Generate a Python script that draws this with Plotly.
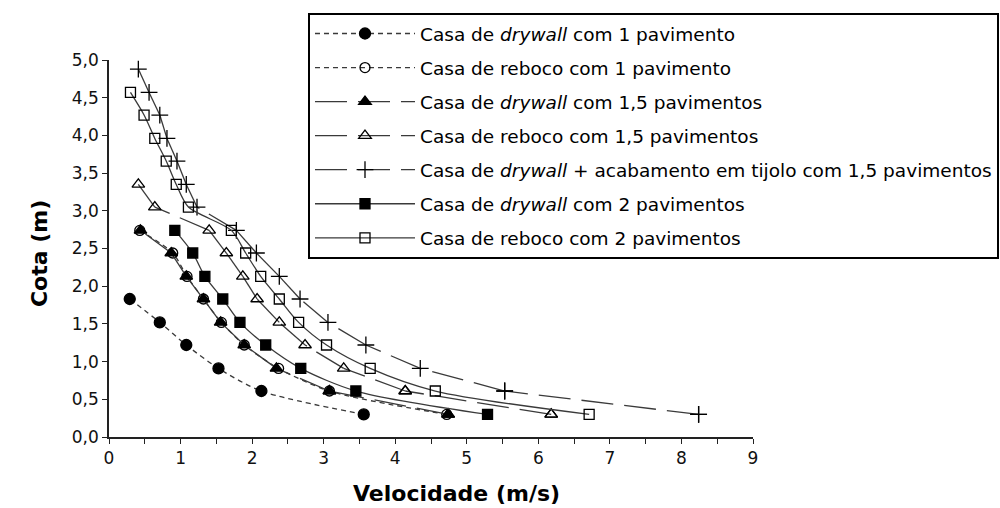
import plotly.graph_objects as go

# Heights (m) - shared vertical levels, bottom to top
cota = [0.30, 0.61, 0.91, 1.22, 1.52, 1.83, 2.13, 2.44, 2.74, 3.05, 3.35, 3.66, 3.96, 4.27, 4.57, 4.88]

# Velocities (m/s), ordered from the lowest height upward
vel_drywall_1 = [3.56, 2.13, 1.53, 1.08, 0.71, 0.29]
vel_reboco_1 = [4.72, 3.08, 2.37, 1.89, 1.57, 1.32, 1.09, 0.89, 0.43]
vel_drywall_15 = [4.74, 3.08, 2.34, 1.89, 1.56, 1.32, 1.08, 0.87, 0.44]
vel_reboco_15 = [6.18, 4.14, 3.28, 2.74, 2.38, 2.07, 1.87, 1.64, 1.40, 0.64, 0.41]
vel_tijolo_15 = [8.24, 5.53, 4.35, 3.59, 3.06, 2.67, 2.38, 2.06, 1.78, 1.23, 1.08, 0.95, 0.81, 0.71, 0.56, 0.41]
vel_drywall_2 = [5.29, 3.45, 2.68, 2.19, 1.83, 1.59, 1.34, 1.17, 0.92]
vel_reboco_2 = [6.71, 4.56, 3.65, 3.04, 2.65, 2.38, 2.12, 1.91, 1.71, 1.11, 0.94, 0.80, 0.64, 0.49, 0.30]

series_names = [
    "Casa de <i>drywall</i> com 1 pavimento",
    "Casa de reboco com 1 pavimento",
    "Casa de <i>drywall</i> com 1,5 pavimentos",
    "Casa de reboco com 1,5 pavimentos",
    "Casa de <i>drywall</i> + acabamento em tijolo com 1,5 pavimentos",
    "Casa de <i>drywall</i> com 2 pavimentos",
    "Casa de reboco com 2 pavimentos",
]

x_ticks = [0, 1, 2, 3, 4, 5, 6, 7, 8, 9]

LC = "#3a3a3a"
LW = 1.3
FONT = "DejaVu Sans"

specs = [
    (series_names[0], vel_drywall_1, "circle", 11, "short"),
    (series_names[1], vel_reboco_1, "circle-open", 10, "short"),
    (series_names[2], vel_drywall_15, "triangle-up", 11, "long"),
    (series_names[3], vel_reboco_15, "triangle-up-open", 11, "long"),
    (series_names[4], vel_tijolo_15, "cross-thin-open", 12, "long"),
    (series_names[5], vel_drywall_2, "square", 10, "solid"),
    (series_names[6], vel_reboco_2, "square-open", 10, "solid"),
]

fig = go.Figure()

for i, (name, vel, sym, size, style) in enumerate(specs):
    ys = cota[:len(vel)]
    g = "s%d" % i
    mk = dict(symbol=sym, size=size, color="black", line=dict(color="black", width=1.3))
    if style == "long":
        for j in range(len(vel) - 1):
            fig.add_trace(go.Scatter(
                x=vel[j:j + 2], y=ys[j:j + 2],
                mode="lines+markers" if j == 0 else "lines",
                line=dict(color=LC, width=LW, dash="32px,11px"),
                marker=mk, name=name, legendgroup=g,
                showlegend=(j == 0), cliponaxis=False, hoverinfo="skip"))
        fig.add_trace(go.Scatter(
            x=vel, y=ys, mode="markers", marker=mk, name=name,
            legendgroup=g, showlegend=False, cliponaxis=False))
    else:
        dash = "5px,4px" if style == "short" else "solid"
        fig.add_trace(go.Scatter(
            x=vel, y=ys, mode="lines+markers",
            line=dict(color=LC, width=LW, dash=dash, shape="spline", smoothing=0.8),
            marker=mk, name=name, legendgroup=g, cliponaxis=False))

axis_common = dict(
    showline=True, linecolor="#222222", linewidth=1.5, mirror=False,
    showgrid=False, zeroline=False, ticks="outside", ticklen=5,
    tickcolor="#222222", tickwidth=1.3,
    tickfont=dict(family=FONT, size=17, color="#111111"),
)

fig.update_xaxes(range=[0, 9], tickvals=x_ticks,
                 minor=dict(dtick=0.5, tick0=0, ticks="outside", ticklen=5,
                            tickcolor="#222222", tickwidth=1.3, showgrid=False),
                 **axis_common)
fig.update_yaxes(range=[0, 5], dtick=0.5, tick0=0, tickformat=".1f", **axis_common)

fig.add_annotation(text="<b>Velocidade (m/s)</b>", xref="paper", yref="paper",
                   x=0.540, y=-0.151, xanchor="center", yanchor="middle",
                   showarrow=False, font=dict(family=FONT, size=22, color="black"))
fig.add_annotation(text="<b>Cota (m)</b>", xref="paper", yref="paper",
                   x=-0.1087, y=0.488, xanchor="center", yanchor="middle",
                   textangle=-90, showarrow=False,
                   font=dict(family=FONT, size=22, color="black"))

fig.update_layout(
    width=1000, height=508, autosize=False,
    margin=dict(l=109, r=247, t=60, b=71, autoexpand=False),
    paper_bgcolor="white", plot_bgcolor="white",
    separators=",.",
    showlegend=True,
    legend=dict(x=0.309, y=1.1247, xanchor="left", yanchor="top",
                bgcolor="white", bordercolor="black", borderwidth=2,
                font=dict(family=FONT, size=18.5, color="black"),
                traceorder="grouped", tracegroupgap=7, itemwidth=100),
)

fig.write_html("out.html")
